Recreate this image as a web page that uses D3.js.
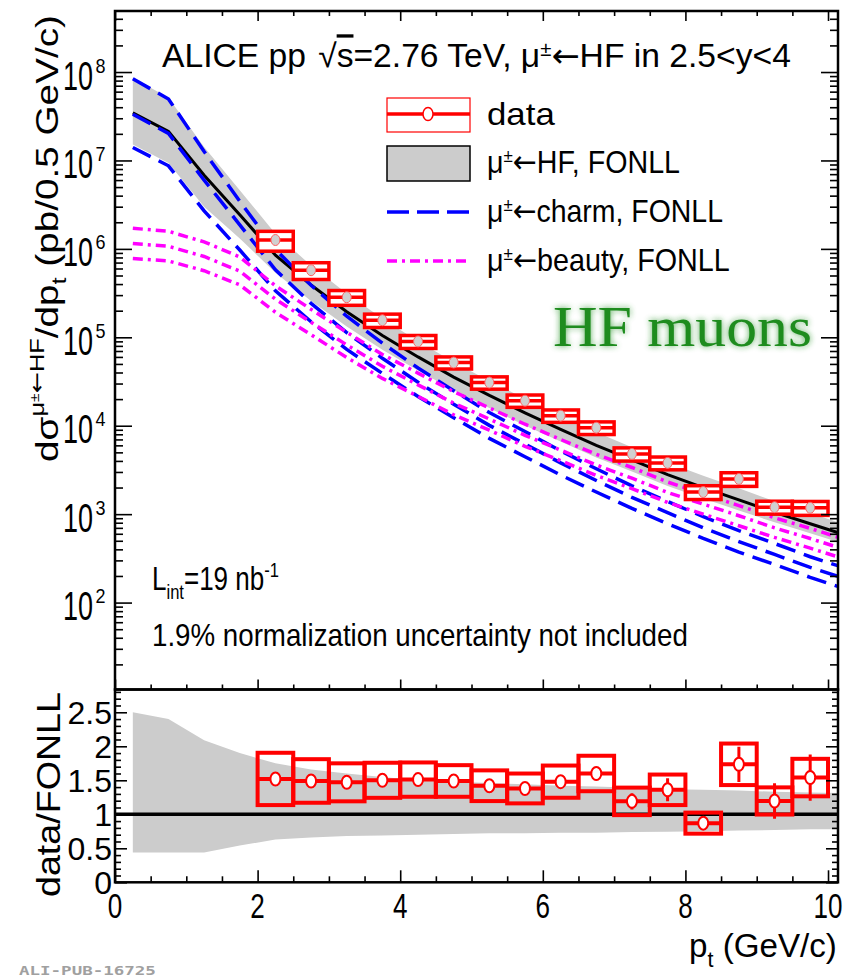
<!DOCTYPE html>
<html>
<head>
<meta charset="utf-8">
<script src="https://cdn.jsdelivr.net/npm/d3@7"></script>
<style>
  body { margin: 0; background: #fff; }
  text { font-family: "Liberation Sans", Arial, sans-serif; }
</style>
</head>
<body>
<div id="chart"></div>
<script>
// measured points (bin centres, GeV/c)
const ptData = [2.25, 2.75, 3.25, 3.75, 4.25, 4.75, 5.25, 5.75, 6.25, 6.75, 7.25, 7.75, 8.25, 8.75, 9.25, 9.75];
const dataVal = [1.26e6, 5.74e5, 2.84e5, 1.56e5, 8.98e4, 5.19e4, 3.08e4, 1.92e4, 1.30e4, 9.5e3, 4.8e3, 3.8e3, 1.78e3, 2.5e3, 1.2e3, 1.18e3];
const sysRel = [0.253, 0.215, 0.19, 0.172, 0.167, 0.156, 0.159, 0.159, 0.16, 0.163, 0.17, 0.165, 0.178, 0.176, 0.167, 0.179];
const ratio = [1.52, 1.49, 1.47, 1.50, 1.51, 1.49, 1.42, 1.38, 1.48, 1.60, 1.19, 1.36, 0.87, 1.735, 1.196, 1.54];
const ratioStat = [0.03, 0.03, 0.03, 0.03, 0.03, 0.03, 0.03, 0.04, 0.05, 0.10, 0.12, 0.17, 0.10, 0.26, 0.26, 0.34];

// FONLL predictions
const ptFonll = [0.25, 0.75, 1.25, 1.75, 2.25, 2.75, 3.25, 3.75, 4.25, 4.75, 5.25, 5.75, 6.25, 6.75, 7.25, 7.75, 8.25, 8.75, 9.25, 9.75, 10.25];
const hfCentral = [3.45e7, 2.13e7, 6.8e6, 2.43e6, 8.5e5, 3.9e5, 1.95e5, 1.05e5, 6.0e4, 3.55e4, 2.2e4, 1.4e4, 9.1e3, 6.0e3, 4.1e3, 2.8e3, 2.0e3, 1.45e3, 1.05e3, 780, 580];
const hfRelHi = [2.50, 2.40, 2.09, 1.90, 1.75, 1.66, 1.60, 1.55, 1.50, 1.48, 1.46, 1.44, 1.42, 1.41, 1.39, 1.37, 1.36, 1.35, 1.33, 1.32, 1.31];
const hfRelLo = [0.44, 0.44, 0.44, 0.54, 0.63, 0.66, 0.68, 0.69, 0.70, 0.71, 0.72, 0.72, 0.73, 0.73, 0.74, 0.745, 0.75, 0.76, 0.77, 0.78, 0.78];
const charmCentral = [3.33e7, 2.02e7, 5.98e6, 1.87e6, 5.8e5, 2.42e5, 1.13e5, 5.8e4, 3.1e4, 1.75e4, 1.01e4, 6.2e3, 3.8e3, 2.4e3, 1.55e3, 1.04e3, 700, 490, 350, 250, 185];
const charmUpper = [8.4e7, 4.95e7, 1.26e7, 3.46e6, 9.9e5, 3.87e5, 1.73e5, 8.6e4, 4.5e4, 2.49e4, 1.41e4, 8.6e3, 5.2e3, 3.26e3, 2.09e3, 1.39e3, 938, 652, 466, 330, 244];
const charmLower = [1.40e7, 8.7e6, 2.69e6, 9.7e5, 3.36e5, 1.5e5, 7.3e4, 3.9e4, 2.14e4, 1.23e4, 7.2e3, 4.46e3, 2.77e3, 1.78e3, 1.16e3, 780, 532, 372, 270, 193, 142];
const beautyCentral = [1.15e6, 1.07e6, 8.2e5, 5.6e5, 2.7e5, 1.48e5, 8.2e4, 4.7e4, 2.9e4, 1.8e4, 1.19e4, 7.8e3, 5.3e3, 3.6e3, 2.55e3, 1.76e3, 1.3e3, 960, 700, 530, 395];
const beautyUpper = [1.71e6, 1.58e6, 1.2e6, 8.1e5, 3.83e5, 2.07e5, 1.14e5, 6.4e4, 3.94e4, 2.43e4, 1.59e4, 1.04e4, 7.0e3, 4.75e3, 3.37e3, 2.31e3, 1.7e3, 1.25e3, 910, 690, 514];
const beautyLower = [7.8e5, 7.3e5, 5.66e5, 3.92e5, 1.92e5, 1.07e5, 5.9e4, 3.43e4, 2.15e4, 1.33e4, 8.9e3, 5.85e3, 4.03e3, 2.74e3, 1.94e3, 1.36e3, 1.0e3, 740, 546, 413, 308];

// axis ticks
const xMajor = [0, 2, 4, 6, 8, 10];
const xLabels = ["0", "2", "4", "6", "8", "10"];
const yTopMajor = [1e2, 1e3, 1e4, 1e5, 1e6, 1e7, 1e8];
const yTopExp = ["2", "3", "4", "5", "6", "7", "8"];
const yBotMajor = [0, 0.5, 1, 1.5, 2, 2.5];
const yBotLabels = ["0", "0.5", "1", "1.5", "2", "2.5"];

const binHalf = 0.25;
const RED = "#ff0000", BLUE = "#0000ff", MAG = "#ff00ff", BAND = "#cccccc";
const ARROW = "DejaVu Sans, sans-serif";

const svg = d3.select("#chart").append("svg").attr("width", 846).attr("height", 980);

const x = d3.scaleLinear().domain([0, 10.14]).range([115, 838]);
const yTop = d3.scaleLog().domain([10.4, 4.9e8]).range([689.5, 11]);
const yBot = d3.scaleLinear().domain([0, 2.835]).range([882.3, 689.5]);

// fit a text to a given width (the original lettering is narrow)
function fit(sel, tx, ty, w, rot) {
  const bw = sel.node().getBBox().width;
  sel.attr("transform", `translate(${tx},${ty}) rotate(${rot || 0}) scale(${w / bw},1)`);
  return sel;
}

const defs = svg.append("defs");
defs.append("clipPath").attr("id", "clipTop").append("rect")
  .attr("x", 115).attr("y", 11).attr("width", 723).attr("height", 678.5);
defs.append("clipPath").attr("id", "clipBot").append("rect")
  .attr("x", 115).attr("y", 689.5).attr("width", 723).attr("height", 192.8);
defs.append("filter").attr("id", "glow").attr("x", "-20%").attr("y", "-40%").attr("width", "140%").attr("height", "180%")
  .append("feGaussianBlur").attr("stdDeviation", 3);

const idx = d3.range(ptFonll.length);

// ---------- upper panel ----------
const gTop = svg.append("g").attr("clip-path", "url(#clipTop)");

gTop.append("path")
  .attr("d", d3.area()
    .x(i => x(ptFonll[i]))
    .y0(i => yTop(hfCentral[i] * hfRelLo[i]))
    .y1(i => yTop(hfCentral[i] * hfRelHi[i]))(idx))
  .attr("fill", BAND);

const lineTop = arr => d3.line().x(i => x(ptFonll[i])).y(i => yTop(arr[i]))(idx);

gTop.append("path").attr("d", lineTop(hfCentral))
  .attr("fill", "none").attr("stroke", "#000").attr("stroke-width", 3);

[charmUpper, charmCentral, charmLower].forEach(arr => {
  gTop.append("path").attr("d", lineTop(arr))
    .attr("fill", "none").attr("stroke", BLUE).attr("stroke-width", 3.5)
    .attr("stroke-dasharray", "20,9");
});
[beautyUpper, beautyCentral, beautyLower].forEach(arr => {
  gTop.append("path").attr("d", lineTop(arr))
    .attr("fill", "none").attr("stroke", MAG).attr("stroke-width", 3.5)
    .attr("stroke-dasharray", "10,5,3,5");
});

// data points with systematic boxes
const pts = gTop.selectAll("g.pt").data(d3.range(ptData.length)).join("g");
pts.append("rect")
  .attr("x", i => x(ptData[i] - binHalf))
  .attr("width", i => x(ptData[i] + binHalf) - x(ptData[i] - binHalf))
  .attr("y", i => yTop(dataVal[i] * (1 + sysRel[i])))
  .attr("height", i => yTop(dataVal[i] * (1 - sysRel[i])) - yTop(dataVal[i] * (1 + sysRel[i])))
  .attr("fill", "#fff").attr("stroke", RED).attr("stroke-width", 3.5);
pts.append("line")
  .attr("x1", i => x(ptData[i] - binHalf)).attr("x2", i => x(ptData[i] + binHalf))
  .attr("y1", i => yTop(dataVal[i])).attr("y2", i => yTop(dataVal[i]))
  .attr("stroke", RED).attr("stroke-width", 3.5);
pts.append("ellipse")
  .attr("cx", i => x(ptData[i])).attr("cy", i => yTop(dataVal[i]))
  .attr("rx", 4.5).attr("ry", 5.5)
  .attr("fill", "#d0d0d0").attr("stroke", "#ff6060").attr("stroke-width", 1);

// ---------- lower panel ----------
const gBot = svg.append("g").attr("clip-path", "url(#clipBot)");

gBot.append("path")
  .attr("d", d3.area()
    .x(i => x(ptFonll[i]))
    .y0(i => yBot(hfRelLo[i]))
    .y1(i => yBot(hfRelHi[i]))(idx))
  .attr("fill", BAND);

gBot.append("line")
  .attr("x1", x(0)).attr("x2", x(10.14))
  .attr("y1", yBot(1)).attr("y2", yBot(1))
  .attr("stroke", "#000").attr("stroke-width", 3.5);

const rp = gBot.selectAll("g.rp").data(d3.range(ptData.length)).join("g");
rp.append("rect")
  .attr("x", i => x(ptData[i] - binHalf))
  .attr("width", i => x(ptData[i] + binHalf) - x(ptData[i] - binHalf))
  .attr("y", i => yBot(ratio[i] * (1 + sysRel[i])))
  .attr("height", i => yBot(ratio[i] * (1 - sysRel[i])) - yBot(ratio[i] * (1 + sysRel[i])))
  .attr("fill", "none").attr("stroke", RED).attr("stroke-width", 4);
rp.append("line")
  .attr("x1", i => x(ptData[i] - binHalf)).attr("x2", i => x(ptData[i] + binHalf))
  .attr("y1", i => yBot(ratio[i])).attr("y2", i => yBot(ratio[i]))
  .attr("stroke", RED).attr("stroke-width", 4);
rp.append("line")
  .attr("x1", i => x(ptData[i])).attr("x2", i => x(ptData[i]))
  .attr("y1", i => yBot(ratio[i] - ratioStat[i])).attr("y2", i => yBot(ratio[i] + ratioStat[i]))
  .attr("stroke", RED).attr("stroke-width", 3);
rp.append("ellipse")
  .attr("cx", i => x(ptData[i])).attr("cy", i => yBot(ratio[i]))
  .attr("rx", 5).attr("ry", 6.5)
  .attr("fill", "#fff").attr("stroke", RED).attr("stroke-width", 2);

// ---------- axes (ticks only, frames drawn separately) ----------
function ticks(gen, tr, vals, size) {
  const g = svg.append("g").attr("transform", tr)
    .call(gen.tickValues(vals).tickSize(size).tickFormat(""));
  g.select(".domain").remove();
  g.selectAll("line").attr("stroke", "#000").attr("stroke-width", 1.6);
}
const xMinor = d3.range(0, 10.01, 0.5).filter(v => v % 2 !== 0);
const yLogMinor = yTop.ticks().filter(v => Math.abs(Math.log10(v) - Math.round(Math.log10(v))) > 1e-6);
const yLinMinor = d3.range(0, 2.84, 0.1).filter(v => Math.abs(v * 2 - Math.round(v * 2)) > 1e-6);

// upper panel
ticks(d3.axisRight(yTop), "translate(115,0)", yTopMajor, 17);
ticks(d3.axisRight(yTop), "translate(115,0)", yLogMinor, 8);
ticks(d3.axisLeft(yTop), "translate(838,0)", yTopMajor, 17);
ticks(d3.axisLeft(yTop), "translate(838,0)", yLogMinor, 8);
ticks(d3.axisBottom(x), "translate(0,11)", xMajor, 10);
ticks(d3.axisBottom(x), "translate(0,11)", xMinor, 5);
ticks(d3.axisTop(x), "translate(0,689.5)", xMajor, 10);
ticks(d3.axisTop(x), "translate(0,689.5)", xMinor, 5);
// lower panel
ticks(d3.axisRight(yBot), "translate(115,0)", yBotMajor, 12);
ticks(d3.axisRight(yBot), "translate(115,0)", yLinMinor, 6);
ticks(d3.axisLeft(yBot), "translate(838,0)", yBotMajor, 12);
ticks(d3.axisLeft(yBot), "translate(838,0)", yLinMinor, 6);
ticks(d3.axisTop(x), "translate(0,882.3)", xMajor, 12);
ticks(d3.axisTop(x), "translate(0,882.3)", xMinor, 6);

// frames
svg.append("rect").attr("x", 115).attr("y", 11).attr("width", 723).attr("height", 678.5)
  .attr("fill", "none").attr("stroke", "#000").attr("stroke-width", 2.5);
svg.append("rect").attr("x", 115).attr("y", 689.5).attr("width", 723).attr("height", 192.8)
  .attr("fill", "none").attr("stroke", "#000").attr("stroke-width", 2.5);

// tick labels
yTopMajor.forEach((v, k) => {
  fit(svg.append("text").attr("font-size", 40).text("10"), 63, yTop(v) + 17.5, 30);
  fit(svg.append("text").attr("font-size", 20).text(yTopExp[k]), 95.5, yTop(v) + 0.5, 10);
});
yBotMajor.forEach((v, k) => {
  svg.append("text").attr("x", 112).attr("y", yBot(v) + 12)
    .attr("text-anchor", "end").attr("font-size", 32).text(yBotLabels[k]);
});
xMajor.forEach((v, k) => {
  const w = xLabels[k].length * 14.5;
  fit(svg.append("text").attr("font-size", 35).text(xLabels[k]), x(v) - w / 2, 918, w);
});

// axis titles
const yt = svg.append("text").attr("font-size", 32);
yt.append("tspan").text("d\u03c3");
yt.append("tspan").attr("dy", -14).attr("font-size", 21).text("\u03bc");
yt.append("tspan").attr("dy", -5).attr("font-size", 13).text("\u00b1");
yt.append("tspan").attr("dy", 5).attr("font-size", 21).style("font-family", ARROW).text("\u2190");
yt.append("tspan").attr("font-size", 21).text("HF");
yt.append("tspan").attr("dy", 14).text("/dp");
yt.append("tspan").attr("dy", 8).attr("font-size", 21).text("t");
yt.append("tspan").attr("dy", -8).text(" (pb/0.5 GeV/c)");
fit(yt, 58, 462, 447, -90);

fit(svg.append("text").attr("font-size", 33).text("data/FONLL"), 60, 897, 205, -90);

const xt = svg.append("text").attr("font-size", 34);
xt.append("tspan").text("p");
xt.append("tspan").attr("dy", 10).attr("font-size", 22).text("t");
xt.append("tspan").attr("dy", -10).text(" (GeV/c)");
fit(xt, 689, 957, 148);

// title
const tt = svg.append("text").attr("font-size", 33);
tt.append("tspan").text("ALICE pp");
tt.append("tspan").attr("dx", 12).text("\u221a");
tt.append("tspan").style("text-decoration", "overline").text("s");
tt.append("tspan").text("=2.76 TeV, \u03bc");
tt.append("tspan").attr("dy", -11).attr("font-size", 20).text("\u00b1");
tt.append("tspan").attr("dy", 11).style("font-family", ARROW).text("\u2190");
tt.append("tspan").text("HF in 2.5<y<4");
fit(tt, 162, 67, 629);

// legend
const leg = svg.append("g");
leg.append("rect").attr("x", 387).attr("y", 98).attr("width", 83).attr("height", 34)
  .attr("fill", "#fff").attr("stroke", RED).attr("stroke-width", 1.2);
leg.append("line").attr("x1", 387).attr("x2", 470).attr("y1", 114).attr("y2", 114)
  .attr("stroke", RED).attr("stroke-width", 3.5);
leg.append("ellipse").attr("cx", 428).attr("cy", 114).attr("rx", 5).attr("ry", 6.5)
  .attr("fill", "#fff").attr("stroke", RED).attr("stroke-width", 1.5);
leg.append("rect").attr("x", 387).attr("y", 146).attr("width", 83).attr("height", 35)
  .attr("fill", BAND).attr("stroke", "#000").attr("stroke-width", 1.5);
leg.append("line").attr("x1", 387).attr("x2", 470).attr("y1", 212).attr("y2", 212)
  .attr("stroke", BLUE).attr("stroke-width", 3.5).attr("stroke-dasharray", "22,8");
leg.append("line").attr("x1", 387).attr("x2", 470).attr("y1", 261).attr("y2", 261)
  .attr("stroke", MAG).attr("stroke-width", 3.5).attr("stroke-dasharray", "10,5,3,5");

fit(leg.append("text").attr("font-size", 32).text("data"), 487, 125, 68);
const legNames = [["HF, FONLL", 173, 193], ["charm, FONLL", 222, 236], ["beauty, FONLL", 271, 243]];
legNames.forEach(([name, by, w]) => {
  const t = leg.append("text").attr("font-size", 32);
  t.append("tspan").text("\u03bc");
  t.append("tspan").attr("dy", -11).attr("font-size", 19).text("\u00b1");
  t.append("tspan").attr("dy", 11).style("font-family", ARROW).text("\u2190");
  t.append("tspan").text(name);
  fit(t, 487, by, w);
});

// HF muons label with soft glow
["glow", "main"].forEach(kind => {
  const t = svg.append("text").attr("x", 553).attr("y", 346).attr("font-size", 58)
    .style("font-family", "Liberation Serif, Times New Roman, serif")
    .attr("textLength", 259).attr("lengthAdjust", "spacingAndGlyphs")
    .attr("fill", "#1e8c1e").text("HF muons");
  if (kind === "glow") t.attr("opacity", 0.75).attr("filter", "url(#glow)");
});

// annotations
const li = svg.append("text").attr("font-size", 33);
li.append("tspan").text("L");
li.append("tspan").attr("dy", 9).attr("font-size", 21).text("int");
li.append("tspan").attr("dy", -9).text("=19 nb");
li.append("tspan").attr("dy", -13).attr("font-size", 21).text("-1");
fit(li, 152, 590, 127);

fit(svg.append("text").attr("font-size", 32).text("1.9% normalization uncertainty not included"), 152, 646, 536);

fit(svg.append("text").attr("font-size", 13).attr("font-weight", "bold")
  .style("font-family", "DejaVu Sans Mono, monospace").attr("fill", "#a0a0a0")
  .text("ALI-PUB-16725"), 19, 975, 137);
</script>
</body>
</html>
